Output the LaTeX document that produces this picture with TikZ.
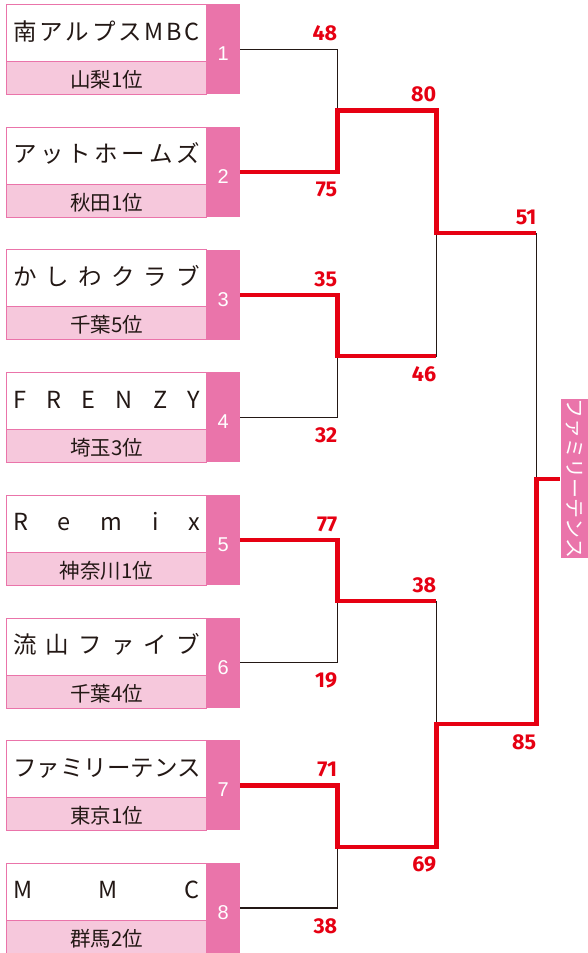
\documentclass[tikz,border=0pt]{standalone}
\usepackage{fontspec}
\setmainfont{Noto Sans CJK JP}
\newfontfamily\numfont{Liberation Sans}
\newfontfamily\scorefont{Fira Sans}
\usetikzlibrary{calc}
\definecolor{pinkD}{RGB}{234,116,170}
\definecolor{pinkL}{RGB}{246,200,220}
\definecolor{redL}{RGB}{230,0,18}
\definecolor{inkK}{RGB}{35,24,21}
\pgfdeclarelayer{bg}
\pgfsetlayers{bg,main}
\newcommand{\teambox}[3]{%
  \pgfmathsetmacro{\tp}{4+(#1-1)*122.7}%
  \node[namebox] (n#1) at (6,\tp) {\hbox to 187pt{#2}};%
  \node[rankbox] (r#1) at (6,\tp+57) {#3};%
  \node[numbox] (k#1) at (206,\tp) {#1};%
}
\tikzset{
  namebox/.style={anchor=north west, draw=pinkD, line width=1pt, fill=white,
    minimum width=200pt, minimum height=57pt, inner sep=0pt,
    text height=35.5pt, text depth=21.5pt, text=inkK,
    font=\fontsize{23.5}{23.5}\selectfont},
  rankbox/.style={anchor=north west, draw=pinkD, line width=1pt, fill=pinkL,
    minimum width=200pt, minimum height=33pt, inner sep=0pt,
    text height=26pt, text depth=7pt, text=inkK,
    font=\fontsize{20.5}{20.5}\selectfont},
  numbox/.style={anchor=north west, fill=pinkD, minimum width=34pt,
    minimum height=90pt, inner sep=0pt, text height=56.5pt, text depth=33.5pt,
    text=white, font=\numfont\fontsize{20}{20}\selectfont},
  score/.style={text=redL, inner sep=0pt,
    font=\scorefont\bfseries\fontsize{21.5}{21.5}\selectfont},
  above score/.style={score, anchor=south east},
  below score/.style={score, anchor=north east},
  blk/.style={draw=inkK, line width=1.4pt},
  win/.style={draw=redL, line width=4.2pt, line join=miter},
  winbox/.style={fill=pinkD, text=white, rotate=-90, minimum width=158pt,
    minimum height=28pt, inner sep=0pt, font=\fontsize{20}{20}\selectfont}
}
\begin{document}
\begin{tikzpicture}[x=1pt, y=-1pt]
\useasboundingbox (0,0) rectangle (588,953);

\teambox{1}{南\hfill ア\hfill ル\hfill プ\hfill ス\hfill M\hfill B\hfill C}{山梨1位}
\teambox{2}{ア\hfill ッ\hfill ト\hfill ホ\hfill ー\hfill ム\hfill ズ}{秋田1位}
\teambox{3}{か\hfill し\hfill わ\hfill ク\hfill ラ\hfill ブ}{千葉5位}
\teambox{4}{F\hfill R\hfill E\hfill N\hfill Z\hfill Y}{埼玉3位}
\teambox{5}{R\hfill e\hfill m\hfill i\hfill x}{神奈川1位}
\teambox{6}{流\hfill 山\hfill フ\hfill ァ\hfill イ\hfill ブ}{千葉4位}
\teambox{7}{フ\hfill ァ\hfill ミ\hfill リ\hfill ー\hfill テ\hfill ン\hfill ス}{東京1位}
\teambox{8}{M\hfill M\hfill C}{群馬2位}

\coordinate (j12) at ($(k1.east)!.5!(k2.east)+(97,0)$);
\coordinate (j34) at ($(k3.east)!.5!(k4.east)+(97,0)$);
\coordinate (j56) at ($(k5.east)!.5!(k6.east)+(97,0)$);
\coordinate (j78) at ($(k7.east)!.5!(k8.east)+(97,0)$);
\coordinate (jA) at ($(j12)!.5!(j34)+(99,0)$);
\coordinate (jB) at ($(j56)!.5!(j78)+(99,0)$);
\coordinate (jF) at ($(jA)!.5!(jB)+(100,0)$);

\node[winbox, anchor=south] (W) at ($(jF)+(24,0)$) {ファミリーテンス};

\begin{pgfonlayer}{bg}
\draw[blk] (k1.east) -| (j12) |- (k2.east);
\draw[blk] (k3.east) -| (j34) |- (k4.east);
\draw[blk] (k5.east) -| (j56) |- (k6.east);
\draw[blk] (k7.east) -| (j78) |- (k8.east);
\draw[blk] (j12) -| (jA) |- (j34);
\draw[blk] (j56) -| (jB) |- (j78);
\draw[blk] (jA) -| (jF) |- (jB);
\draw[win] (k2.east) -| (j12) -| (jA) -- (jA -| jF);
\draw[win] (k3.east) -| (j34) -- (j34 -| jA);
\draw[win] (k5.east) -| (j56) -- (j56 -| jB);
\draw[win] (k7.east) -| (j78) -| (jB) -| (jF) -- (W.south);
\end{pgfonlayer}

% round 1 scores
\node[above score] (s1) at ($(k1.east -| j12)+(0,-8)$) {48};
\node[below score] (s2) at ($(k2.east -| j12)+(0,10)$) {75};
\node[above score] (s3) at ($(k3.east -| j34)+(0,-8)$) {35};
\node[below score] (s4) at ($(k4.east -| j34)+(0,10)$) {32};
\node[above score] (s5) at ($(k5.east -| j56)+(0,-8)$) {77};
\node[below score] (s6) at ($(k6.east -| j56)+(0,10)$) {19};
\node[above score] (s7) at ($(k7.east -| j78)+(0,-8)$) {71};
\node[below score] (s8) at ($(k8.east -| j78)+(0,10)$) {38};
% semifinal scores
\node[above score] (sA1) at ($(j12 -| jA)+(0,-8)$) {80};
\node[below score] (sA2) at ($(j34 -| jA)+(0,10)$) {46};
\node[above score] (sB1) at ($(j56 -| jB)+(0,-8)$) {38};
\node[below score] (sB2) at ($(j78 -| jB)+(0,10)$) {69};
% final scores
\node[above score] (sF1) at ($(jA -| jF)+(0,-8)$) {51};
\node[below score] (sF2) at ($(jB -| jF)+(0,10)$) {85};
\end{tikzpicture}
\end{document}
